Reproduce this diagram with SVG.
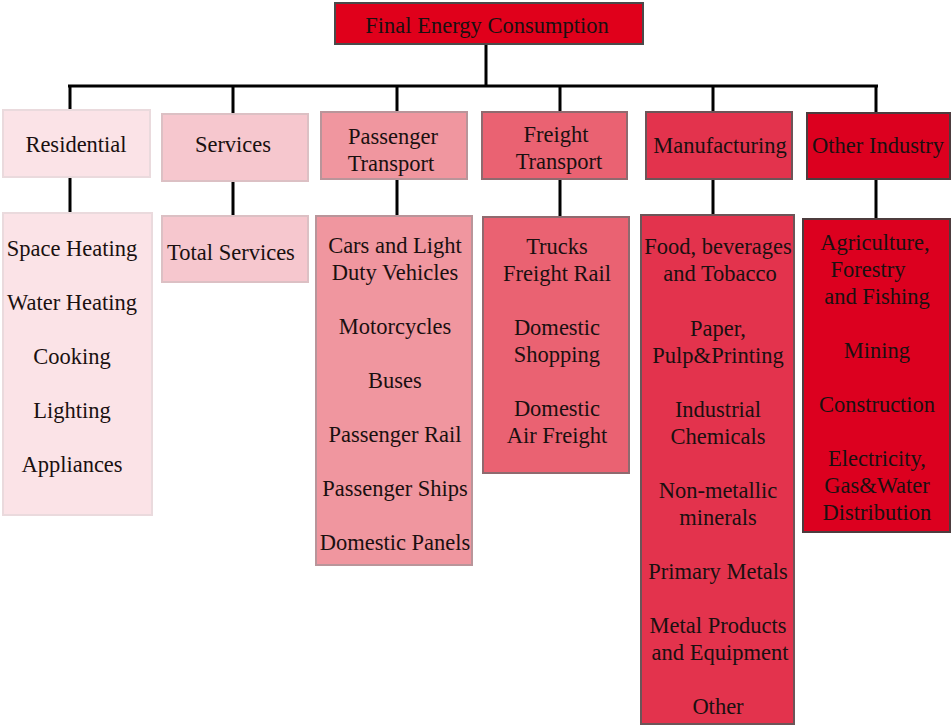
<svg xmlns="http://www.w3.org/2000/svg" width="952" height="727" viewBox="0 0 952 727">
<style>
text{font-family:"Liberation Serif","Times New Roman",serif;font-size:22.5px;fill:#1a1010;text-anchor:middle}
.c{stroke:#000;stroke-width:3;fill:none}
.b{stroke-width:2}
.r{fill:#fbe3e7;stroke:#eadadd}
.s{fill:#f6c7ce;stroke:#dcc0c4}
.p{fill:#f0969f;stroke:#b9959a}
.f{fill:#ea6272;stroke:#8f6a6f}
.m{fill:#e3334d;stroke:#6d5558}
.o{fill:#dc001f;stroke:#4d3c3e}
</style>
<rect width="952" height="727" fill="#fff"/>
<g id="connectors">
<path class="c" d="M486 44V86M68 86H878M70 86V111M233 86V114M397 86V112M560 86V112M713 86V112M876 86V113"/>
<path class="c" d="M70 178V214M233 182V217M397 180V217M560 180V218M713 180V216M876 180V220"/>
</g>
<g id="root"><rect class="b" x="335" y="3" width="308" height="41" fill="#e0001b" stroke="#4a4a4a"/><text x="487" y="33">Final Energy Consumption</text></g>
<g id="residential"><rect class="b r" x="3" y="110" width="147" height="67"/><text x="76" y="152">Residential</text></g>
<g id="services"><rect class="b s" x="162" y="114" width="146" height="67"/><text x="233" y="152">Services</text></g>
<g id="passenger"><rect class="b p" x="321" y="112" width="146" height="67"/><text x="393" y="144">Passenger</text><text x="391" y="171">Transport</text></g>
<g id="freight"><rect class="b f" x="482" y="112" width="145" height="67"/><text x="556" y="142">Freight</text><text x="559" y="169">Transport</text></g>
<g id="manufacturing"><rect class="b m" x="646" y="112" width="146" height="67"/><text x="720" y="153">Manufacturing</text></g>
<g id="other-industry"><rect class="b o" x="807" y="113" width="143" height="66"/><text x="878" y="153">Other Industry</text></g>
<g id="residential-items"><rect class="b r" x="3" y="213" width="149" height="302"/>
<text x="72" y="256">Space Heating</text><text x="72" y="310">Water Heating</text><text x="72" y="364">Cooking</text><text x="72" y="418">Lighting</text><text x="72" y="472">Appliances</text></g>
<g id="services-items"><rect class="b s" x="162" y="216" width="146" height="66"/><text x="231" y="260">Total Services</text></g>
<g id="passenger-items"><rect class="b p" x="316" y="216" width="156" height="349"/>
<text x="395" y="253">Cars and Light</text><text x="395" y="280">Duty Vehicles</text><text x="395" y="334">Motorcycles</text><text x="395" y="388">Buses</text><text x="395" y="442">Passenger Rail</text><text x="395" y="496">Passenger Ships</text><text x="395" y="550">Domestic Panels</text></g>
<g id="freight-items"><rect class="b f" x="483" y="217" width="146" height="256"/>
<text x="557" y="254">Trucks</text><text x="557" y="281">Freight Rail</text><text x="557" y="335">Domestic</text><text x="557" y="362">Shopping</text><text x="557" y="416">Domestic</text><text x="557" y="443">Air Freight</text></g>
<g id="manufacturing-items"><rect class="b m" x="641" y="215" width="153" height="509"/>
<text x="718" y="254">Food, beverages</text><text x="720" y="281">and Tobacco</text><text x="718" y="336">Paper,</text><text x="718" y="363">Pulp&amp;Printing</text><text x="718" y="417">Industrial</text><text x="718" y="444">Chemicals</text><text x="718" y="498">Non-metallic</text><text x="718" y="525">minerals</text><text x="718" y="579">Primary Metals</text><text x="718" y="633">Metal Products</text><text x="720" y="660">and Equipment</text><text x="718" y="714">Other</text></g>
<g id="other-items"><rect class="b o" x="803" y="219" width="147" height="313"/>
<text x="875" y="250">Agriculture,</text><text x="868" y="277">Forestry</text><text x="877" y="304">and Fishing</text><text x="877" y="358">Mining</text><text x="877" y="412">Construction</text><text x="877" y="466">Electricity,</text><text x="877" y="493">Gas&amp;Water</text><text x="877" y="520">Distribution</text></g>
</svg>
